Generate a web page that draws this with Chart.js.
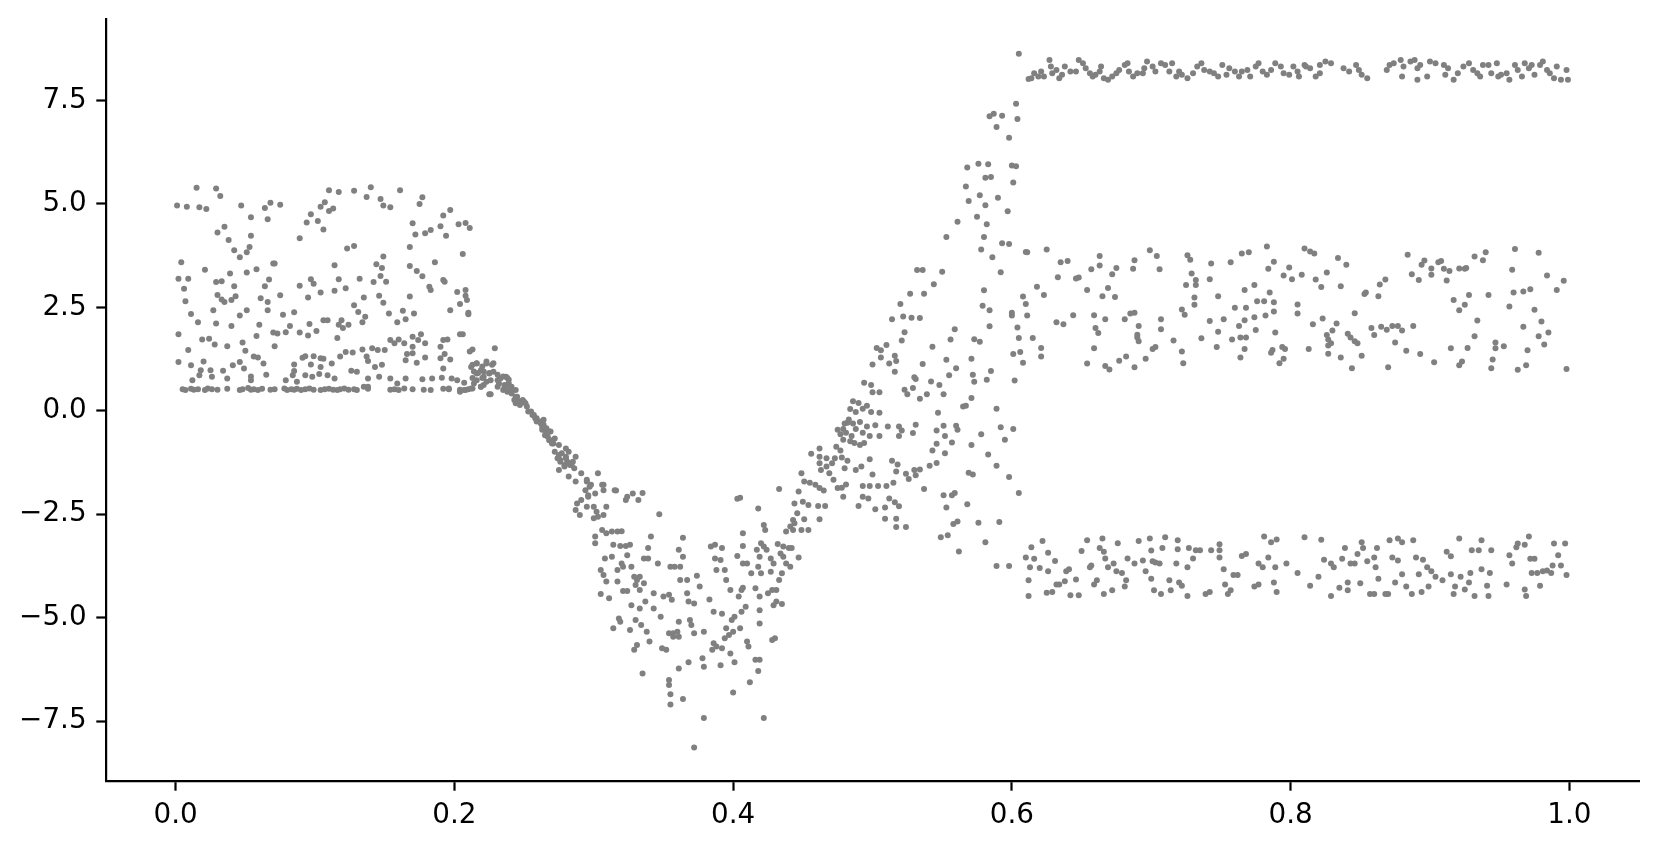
<!DOCTYPE html>
<html>
<head>
<meta charset="utf-8">
<script src="https://cdn.jsdelivr.net/npm/chart.js@4.4.1/dist/chart.umd.min.js"></script>
<style>
  html, body { margin: 0; padding: 0; background: #ffffff; }
  #wrap { width: 1660px; height: 848px; }
</style>
</head>
<body>
<div id="wrap"><canvas id="chart" width="1660" height="848"></canvas></div>
<script>
// tick positions
const xTicks = [0, 0.2, 0.4, 0.6, 0.8, 1.0];
const yTicks = [-7.5, -5, -2.5, 0, 2.5, 5, 7.5];

// x in [0, 0.23]: the noisy block
const leftBlock = [
  [0.001,4.96],[0.008,4.93],[0.015,5.39],[0.017,4.92],[0.022,4.88],[0.029,5.37],[0.032,5.19],[0.030,4.31],[0.035,4.45],[0.038,4.13],
  [0.042,3.88],[0.046,3.71],[0.051,3.83],[0.053,3.96],[0.054,4.23],[0.054,4.68],[0.047,4.96],[0.064,4.90],[0.068,5.03],[0.066,4.63],
  [0.075,4.98],[0.089,4.17],[0.094,4.55],[0.097,4.75],[0.102,4.59],[0.106,4.38],[0.104,4.93],[0.107,5.04],[0.110,4.83],[0.113,4.89],
  [0.110,5.33],[0.117,5.29],[0.123,3.92],[0.128,3.98],[0.128,5.32],[0.137,5.17],[0.140,5.40],[0.147,5.12],[0.149,4.96],[0.154,4.92],
  [0.161,5.33],[0.177,5.16],[0.175,5.00],[0.170,4.53],[0.172,4.26],[0.179,4.29],[0.183,4.37],[0.190,4.46],[0.192,4.72],[0.197,4.85],
  [0.203,4.51],[0.208,4.54],[0.211,4.42],[0.206,3.79],[0.194,4.23],[0.168,3.96],[0.186,3.59],
  [0.004,3.59],[0.002,3.19],[0.009,3.19],[0.006,2.95],[0.007,2.65],[0.011,2.34],[0.016,2.14],[0.002,1.85],[0.021,3.41],[0.029,3.11],
  [0.033,3.13],[0.039,3.32],[0.042,3.01],[0.030,2.80],[0.033,2.69],[0.035,2.63],[0.040,2.68],[0.043,2.77],[0.027,2.43],[0.029,2.11],
  [0.040,2.05],[0.046,2.30],[0.051,2.43],[0.051,3.34],[0.058,3.42],[0.061,2.72],[0.066,2.63],[0.066,2.43],[0.064,3.01],[0.067,3.17],
  [0.070,3.56],[0.071,3.56],[0.075,2.79],[0.077,2.32],[0.085,2.38],[0.089,3.02],[0.095,2.74],[0.097,3.18],[0.099,3.07],[0.104,2.86],
  [0.114,3.52],[0.117,3.18],[0.114,2.90],[0.122,2.96],[0.132,3.19],[0.135,2.74],[0.128,2.55],[0.131,2.39],[0.136,2.27],[0.134,2.14],
  [0.144,3.54],[0.148,3.45],[0.149,3.73],[0.147,3.26],[0.142,3.11],[0.151,3.12],[0.146,2.78],[0.149,2.61],[0.153,2.35],[0.159,2.14],
  [0.163,2.42],[0.165,2.21],[0.168,2.76],[0.171,2.35],[0.168,3.50],[0.173,3.38],[0.177,3.25],[0.182,3.00],[0.183,2.92],[0.192,3.16],
  [0.193,3.12],[0.202,2.87],[0.208,2.92],[0.208,2.78],[0.209,2.68],[0.204,2.58],[0.210,2.37],[0.210,2.33],[0.197,2.43],[0.204,1.85],
  [0.206,1.85],
  [0.002,1.18],[0.009,1.47],[0.011,1.10],[0.019,1.72],[0.024,1.74],[0.028,1.60],[0.020,1.19],[0.018,0.98],[0.025,0.98],[0.026,0.82],
  [0.034,0.97],[0.037,1.56],[0.041,1.10],[0.046,1.18],[0.048,1.65],[0.050,1.45],[0.049,1.02],[0.054,0.83],[0.056,1.31],[0.059,1.29],
  [0.058,1.81],[0.060,2.08],[0.063,1.14],[0.065,0.87],[0.070,1.89],[0.073,1.87],[0.071,1.56],[0.079,1.90],[0.082,2.05],[0.089,1.89],
  [0.095,1.82],[0.096,2.10],[0.101,1.93],[0.106,2.19],[0.109,2.19],[0.116,1.76],[0.117,2.08],[0.119,2.19],[0.124,2.08],[0.120,2.00],
  [0.085,1.12],[0.085,0.96],[0.091,1.28],[0.093,1.32],[0.097,1.12],[0.099,1.32],[0.104,1.27],[0.104,1.06],[0.106,1.26],[0.112,1.14],
  [0.103,0.89],[0.118,1.31],[0.122,1.42],[0.127,1.41],[0.126,0.97],[0.130,0.94],[0.134,1.48],[0.137,1.31],[0.138,1.20],[0.141,1.51],
  [0.145,1.47],[0.150,1.47],[0.143,1.06],[0.148,1.11],[0.146,0.82],[0.138,0.78],[0.138,0.58],[0.154,1.71],[0.157,1.63],[0.160,1.72],
  [0.164,1.63],[0.170,1.55],[0.170,1.79],[0.176,1.85],[0.174,1.71],[0.179,1.63],[0.166,1.37],[0.165,1.22],[0.170,1.39],[0.173,1.16],
  [0.179,1.29],[0.190,1.55],[0.192,1.71],[0.195,1.72],[0.190,1.27],[0.193,1.37],[0.197,1.24],[0.192,1.02],[0.211,1.43],[0.213,1.48],
  [0.229,1.51],[0.191,0.80],[0.198,0.78],[0.202,0.74],[0.207,0.68],[0.212,1.06],[0.216,1.14],[0.219,0.98],[0.223,1.14],[0.216,0.90],
  [0.221,0.82],[0.225,0.90],[0.228,0.94],[0.231,0.74],[0.225,0.40],[0.219,0.58],[0.231,0.58],
  [0.012,0.74],[0.017,0.86],[0.037,0.78],[0.054,0.74],[0.079,0.74],[0.084,0.86],[0.087,0.70],[0.093,0.86],[0.098,0.82],[0.109,0.86],
  [0.114,0.78],[0.135,0.58],[0.154,0.78],[0.159,0.66],[0.165,0.78],[0.177,0.76],[0.184,0.78],
  [0.005,0.52],[0.007,0.50],[0.011,0.53],[0.013,0.51],[0.016,0.52],[0.021,0.50],[0.023,0.54],[0.026,0.52],[0.030,0.51],[0.037,0.53],
  [0.046,0.50],[0.048,0.52],[0.052,0.55],[0.054,0.51],[0.056,0.52],[0.059,0.50],[0.062,0.53],[0.068,0.51],[0.071,0.52],[0.078,0.54],
  [0.080,0.50],[0.083,0.52],[0.085,0.51],[0.087,0.53],[0.090,0.50],[0.093,0.52],[0.096,0.54],[0.099,0.51],[0.104,0.50],[0.107,0.52],
  [0.110,0.53],[0.113,0.51],[0.116,0.50],[0.118,0.52],[0.121,0.54],[0.124,0.51],[0.128,0.52],[0.130,0.50],[0.138,0.53],[0.154,0.51],
  [0.157,0.52],[0.160,0.50],[0.164,0.54],[0.170,0.52],[0.178,0.51],[0.183,0.50],[0.192,0.53],[0.196,0.52],[0.204,0.51],[0.207,0.50],
  [0.210,0.52],[0.213,0.54]
];

// x in [0.21, 0.48]: the dip
const descent = [
  [0.213,1.11],[0.216,1.15],[0.220,1.07],[0.223,1.19],[0.227,1.11],[0.228,1.15],[0.214,0.95],[0.217,0.91],[0.221,0.95],[0.225,0.91],
  [0.213,0.79],[0.216,0.74],[0.220,0.79],[0.223,0.70],[0.226,0.74],[0.214,0.66],[0.196,0.54],[0.204,0.46],[0.208,0.50],[0.212,0.54],
  [0.219,0.58],[0.221,0.62],[0.226,0.40],
  [0.231,0.87],[0.235,0.83],[0.238,0.79],[0.232,0.66],[0.236,0.62],[0.239,0.66],[0.241,0.58],[0.235,0.50],[0.238,0.46],[0.241,0.42],
  [0.244,0.50],[0.245,0.34],[0.243,0.26],[0.246,0.22],[0.249,0.26],[0.251,0.18],[0.247,0.14],[0.252,0.10],
  [0.253,-0.02],[0.256,-0.10],[0.258,-0.18],[0.259,-0.26],[0.262,-0.31],[0.264,-0.22],[0.263,-0.39],[0.265,-0.47],[0.268,-0.50],[0.267,-0.63],
  [0.269,-0.71],[0.272,-0.67],[0.271,-0.79],[0.275,-0.83],[0.272,-0.99],[0.275,-1.07],[0.277,-1.03],[0.274,-1.15],[0.276,-1.23],[0.280,-1.15],
  [0.281,-1.27],[0.279,-1.35],[0.283,-1.31],[0.285,-1.23],[0.287,-1.11],[0.275,-1.43],[0.282,-1.59],[0.280,-0.91],[0.287,-1.71],[0.291,-1.51],
  [0.295,-1.71],[0.297,-1.84],[0.294,-1.92],[0.296,-2.04],[0.301,-2.00],[0.303,-1.51],[0.307,-1.79],[0.315,-1.92],[0.328,-2.00],[0.324,-2.08],
  [0.233,0.78],[0.237,0.82],[0.239,0.75],[0.236,0.58],[0.238,0.62],[0.240,0.54],[0.241,0.46],[0.244,0.34],[0.245,0.26],[0.248,0.22],
  [0.244,0.18],[0.250,0.22],[0.255,-0.02],[0.257,-0.10],[0.259,-0.18],[0.262,-0.26],[0.264,-0.34],[0.263,-0.46],[0.266,-0.42],[0.269,-0.50],
  [0.265,-0.59],[0.268,-0.71],[0.270,-0.79],[0.276,-1.19],[0.279,-1.31],[0.281,-1.23],[0.284,-1.31],[0.286,-1.39],[0.280,-1.11],[0.282,-0.99],
  [0.295,-1.67],[0.298,-1.79],[0.296,-2.08],[0.291,-2.16],[0.288,-2.24],[0.287,-2.40],[0.290,-2.52],[0.295,-2.32],[0.300,-2.32],[0.302,-2.44],
  [0.307,-2.52],[0.300,-2.60],[0.306,-1.79],[0.307,-1.92],[0.309,-2.32],[0.303,-2.56],[0.316,-1.93],[0.323,-2.16],[0.332,-2.16],[0.335,-1.99],
  [0.347,-2.50],
  [0.306,-2.88],[0.309,-2.96],[0.313,-2.92],[0.317,-2.92],[0.320,-2.91],[0.301,-3.04],[0.301,-3.20],[0.314,-3.24],[0.319,-3.27],[0.323,-3.27],
  [0.326,-3.24],[0.308,-3.57],[0.313,-3.53],[0.324,-3.49],[0.305,-3.85],[0.307,-3.97],[0.309,-4.13],[0.317,-3.85],[0.321,-3.77],[0.320,-3.69],
  [0.327,-3.77],[0.329,-4.01],[0.331,-4.09],[0.333,-4.01],[0.336,-4.17],[0.330,-4.21],[0.333,-4.33],[0.321,-4.36],[0.324,-4.36],[0.317,-4.13],
  [0.305,-4.43],[0.311,-4.53],[0.339,-3.32],[0.341,-3.04],[0.336,-3.57],[0.339,-3.57],[0.346,-3.69],
  [0.327,-4.70],[0.333,-4.78],[0.337,-4.61],[0.343,-4.41],[0.343,-4.78],[0.348,-4.98],[0.350,-4.49],[0.354,-4.45],[0.356,-4.57],[0.357,-5.38],
  [0.361,-5.46],[0.354,-5.38],[0.352,-5.78],[0.349,-5.74],[0.340,-5.58],[0.338,-5.34],[0.334,-5.18],[0.330,-5.06],[0.326,-5.30],[0.329,-5.78],
  [0.331,-5.66],[0.318,-5.02],[0.319,-5.10],[0.314,-5.26],
  [0.335,-6.35],[0.354,-6.51],[0.354,-6.63],[0.355,-6.85],[0.355,-7.10],[0.364,-6.97],[0.361,-6.23],[0.368,-6.08],[0.372,-8.14],[0.379,-7.43],
  [0.379,-6.19],[0.378,-5.98],[0.391,-6.15],[0.400,-6.81],[0.401,-6.08],[0.412,-6.56],[0.418,-6.29],[0.416,-6.02],[0.419,-6.02],[0.422,-7.43],
  [0.428,-5.54],[0.430,-5.50],
  [0.355,-3.77],[0.358,-3.77],[0.362,-3.77],[0.362,-4.09],[0.367,-4.09],[0.361,-3.36],[0.364,-3.07],[0.364,-3.53],[0.367,-4.41],[0.368,-4.61],
  [0.372,-4.66],[0.374,-3.99],[0.376,-4.25],[0.369,-5.06],[0.370,-5.18],[0.361,-5.10],[0.360,-5.34],[0.357,-5.46],[0.372,-5.38],[0.379,-5.34],
  [0.383,-4.56],[0.386,-4.86],[0.392,-4.91],[0.386,-5.62],[0.385,-5.78],[0.388,-5.70],[0.392,-5.74],[0.398,-5.87],[0.394,-5.50],[0.397,-5.42],
  [0.400,-5.34],[0.405,-5.26],[0.395,-5.26],[0.399,-5.06],[0.401,-4.98],[0.406,-4.86],[0.409,-4.74],[0.410,-5.58],[0.411,-5.70],[0.419,-5.14],
  [0.419,-4.82],[0.419,-4.49],[0.416,-4.29],[0.407,-4.28],[0.404,-4.49],[0.406,-4.33],[0.398,-4.33],[0.395,-4.09],[0.394,-3.85],[0.388,-3.85],
  [0.387,-3.57],[0.391,-3.61],[0.384,-3.28],[0.387,-3.24],[0.392,-3.32],[0.403,-3.51],[0.407,-3.27],[0.407,-3.69],[0.410,-3.69],[0.413,-3.93],
  [0.418,-3.77],[0.420,-3.93],[0.425,-4.41],[0.428,-4.33],[0.431,-4.33],[0.429,-4.70],[0.431,-4.61],[0.435,-4.67],[0.433,-4.09],[0.435,-3.93],
  [0.427,-3.89],[0.429,-3.69],[0.434,-3.45],[0.436,-3.53],[0.438,-3.69],[0.441,-3.77],[0.436,-3.28],[0.440,-3.32],[0.424,-3.36],[0.427,-3.57],
  [0.419,-3.53],[0.422,-3.28],[0.420,-3.20],[0.417,-3.36],[0.423,-2.88],[0.422,-2.76],[0.407,-2.96],[0.418,-2.36],[0.432,-3.22],[0.403,-2.13],
  [0.405,-2.10],[0.433,-1.89],[0.442,-3.32],[0.447,-3.55],[0.449,-2.88],[0.454,-2.88],[0.443,-2.88],[0.438,-2.92],[0.441,-2.80],[0.444,-2.72],
  [0.443,-2.64],[0.446,-2.48],[0.451,-2.62],[0.462,-2.62],[0.444,-2.24],[0.450,-2.20],[0.454,-2.28],[0.461,-2.30],[0.466,-2.30],[0.447,-1.95],
  [0.451,-1.71],[0.455,-1.74],[0.459,-1.79],[0.462,-1.87],[0.465,-1.93],[0.449,-1.51],[0.456,-1.04],[0.462,-1.11],[0.467,-1.15],[0.462,-1.27],
  [0.463,-1.43],[0.467,-1.35],[0.471,-1.27],[0.473,-1.15],[0.474,-0.87],[0.475,-0.46],[0.469,-1.51],[0.472,-1.67],[0.475,-1.87],[0.462,-0.91]
];

// x in [0.48, 0.61]: the split and the climb
const ascent = [
  [0.605,8.63],[0.612,8.02],[0.603,7.42],[0.604,7.05],[0.584,7.12],[0.587,7.18],[0.593,7.13],[0.589,6.86],[0.598,6.60],[0.568,5.88],
  [0.576,5.97],[0.583,5.96],[0.581,5.63],[0.585,5.65],[0.600,5.93],[0.603,5.91],[0.601,5.52],[0.567,5.42],[0.577,5.21],[0.569,5.07],
  [0.581,4.97],[0.590,5.15],[0.575,4.69],[0.582,4.51],[0.597,4.82],[0.561,4.57],[0.553,4.20],[0.580,4.20],[0.593,4.05],[0.598,4.03],
  [0.578,3.90],[0.586,3.71],[0.610,3.84],[0.592,3.35],[0.532,3.40],[0.536,3.40],[0.550,3.36],[0.544,3.06],[0.527,2.83],[0.537,2.83],
  [0.580,2.91],[0.520,2.58],[0.514,2.21],[0.522,2.28],[0.528,2.25],[0.534,2.24],[0.523,1.90],[0.521,1.70],[0.579,2.54],[0.584,2.43],
  [0.584,2.04],[0.600,2.37],[0.600,2.30],[0.608,2.76],[0.610,2.58],[0.611,2.30],[0.604,2.01],[0.605,1.76],[0.601,1.37],[0.606,1.42],
  [0.608,1.16],[0.602,0.73],[0.573,1.73],[0.577,1.67],[0.559,1.97],[0.556,1.72],[0.543,1.55],[0.553,1.23],[0.560,1.03],[0.555,0.86],
  [0.571,1.26],[0.572,0.87],[0.573,0.70],[0.582,0.75],[0.585,0.96],[0.571,0.31],[0.565,0.10],[0.567,0.12],[0.589,0.05],[0.592,-0.40],
  [0.601,-0.44],[0.595,-0.70],[0.578,-0.57],[0.598,-1.60],[0.605,-1.99],[0.583,-1.06],[0.589,-1.33],[0.571,-0.83],[0.569,-1.50],[0.572,-1.54],
  [0.568,-2.26],[0.576,-2.71],[0.591,-2.69],[0.581,-3.18],[0.589,-3.75],[0.598,-3.75],[0.562,-3.40],[0.549,-3.06],[0.554,-3.01],[0.558,-2.74],
  [0.561,-2.68],[0.551,-2.04],[0.557,-2.04],[0.559,-1.99],[0.553,-2.34],[0.537,-1.89],[0.551,0.40],[0.547,-0.05],[0.542,0.71],[0.548,0.62],
  [0.536,1.13],[0.530,0.81],[0.531,0.77],[0.523,0.51],[0.525,0.40],[0.529,0.55],[0.534,0.29],[0.539,0.40],[0.516,1.33],[0.517,1.20],
  [0.512,1.14],[0.516,0.94],[0.506,1.29],[0.510,1.59],[0.503,1.52],[0.506,1.46],[0.500,1.12],[0.505,0.45],[0.494,0.68],[0.499,0.62],
  [0.511,-0.38],[0.519,-0.38],[0.505,-0.61],[0.529,-0.54],[0.531,-0.34],[0.546,-0.48],[0.551,-0.36],[0.546,-0.80],[0.552,-0.61],[0.557,-0.77],
  [0.543,-0.96],[0.560,-0.36],[0.561,-0.46],[0.552,-1.03],[0.541,-1.33],[0.546,-1.26],[0.521,-0.48],[0.519,-0.61],[0.518,-1.30],[0.514,-1.21],
  [0.517,-1.47],[0.524,-1.52],[0.526,-1.65],[0.531,-1.56],[0.534,-1.42],[0.530,-1.43],[0.512,-2.12],[0.516,-2.21],[0.509,-2.61],[0.517,-2.61],
  [0.517,-2.81],[0.524,-2.81],[0.519,-2.31],[0.509,-2.34],[0.502,-2.38],
  [0.500,0.45],[0.486,0.23],[0.490,0.19],[0.484,0.04],[0.488,-0.03],[0.493,0.05],[0.496,0.12],[0.499,-0.03],[0.505,-0.05],[0.480,-0.31],
  [0.482,-0.29],[0.486,-0.31],[0.491,-0.27],[0.496,-0.38],[0.502,-0.35],[0.483,-0.21],[0.479,-0.44],[0.488,-0.44],[0.493,-0.53],[0.477,-0.57],
  [0.481,-0.53],[0.485,-0.61],[0.479,-0.70],[0.484,-0.74],[0.487,-0.78],[0.491,-0.83],[0.494,-0.78],[0.498,-0.61],[0.477,-0.96],[0.478,-1.13],
  [0.482,-1.21],[0.480,-1.39],[0.488,-1.43],[0.492,-1.35],[0.498,-1.17],[0.478,-1.86],[0.481,-1.78],[0.479,-2.08],[0.493,-1.82],[0.498,-1.82],
  [0.504,-1.82],[0.510,-1.82],[0.515,-1.74],[0.493,-2.08],[0.497,-2.12],[0.490,-2.30],[0.500,-1.54]
];

// x > 0.6: three bands
const topBand = [
  [0.614,8.04],[0.616,8.16],[0.619,8.08],[0.621,8.20],[0.623,8.08],[0.627,8.48],[0.628,8.32],[0.629,8.16],[0.632,8.24],[0.634,8.04],
  [0.636,8.12],[0.638,8.32],[0.642,8.20],[0.646,8.20],[0.648,8.48],[0.651,8.40],[0.653,8.28],[0.656,8.16],[0.658,8.08],[0.660,8.12],
  [0.663,8.20],[0.664,8.32],[0.666,8.04],[0.669,8.00],[0.672,8.08],[0.675,8.16],[0.677,8.24],[0.681,8.36],[0.683,8.40],[0.684,8.20],
  [0.687,8.08],[0.690,8.16],[0.694,8.16],[0.695,8.28],[0.697,8.44],[0.701,8.32],[0.703,8.20],[0.707,8.40],[0.710,8.36],[0.713,8.20],
  [0.715,8.40],[0.718,8.08],[0.720,8.20],[0.722,8.12],[0.726,8.04],[0.730,8.16],[0.733,8.32],[0.736,8.40],[0.738,8.24],[0.742,8.20],
  [0.745,8.16],[0.748,8.08],[0.751,8.36],[0.754,8.12],[0.756,8.28],[0.760,8.20],[0.763,8.08],[0.765,8.20],[0.769,8.24],[0.771,8.08],
  [0.775,8.32],[0.777,8.40],[0.780,8.20],[0.783,8.12],[0.786,8.24],[0.789,8.40],[0.793,8.32],[0.795,8.16],[0.799,8.12],[0.802,8.32],
  [0.805,8.20],[0.806,8.08],[0.810,8.36],
  [0.811,8.32],[0.814,8.28],[0.818,8.08],[0.821,8.16],[0.821,8.36],[0.825,8.44],[0.829,8.40],[0.838,8.28],[0.842,8.20],[0.847,8.36],
  [0.849,8.24],[0.851,8.12],[0.855,8.04],[0.869,8.24],[0.871,8.36],[0.874,8.40],[0.879,8.48],[0.880,8.08],[0.881,8.32],[0.886,8.44],
  [0.889,8.48],[0.891,8.28],[0.891,8.00],[0.893,8.36],[0.898,8.08],[0.900,8.44],[0.904,8.40],[0.910,8.36],[0.911,8.12],[0.913,8.28],
  [0.917,8.00],[0.920,8.16],[0.924,8.32],[0.928,8.40],[0.931,8.24],[0.934,8.16],[0.936,8.08],[0.938,8.36],[0.942,8.36],[0.944,8.16],
  [0.948,8.40],[0.949,8.08],[0.951,8.12],[0.955,8.16],[0.957,8.00],[0.961,8.36],[0.963,8.24],[0.966,8.08],[0.968,8.40],[0.971,8.28],
  [0.973,8.36],[0.975,8.12],[0.979,8.36],[0.981,8.44],[0.984,8.24],[0.986,8.16],[0.989,8.04],[0.991,8.32],[0.994,8.00],[0.998,8.24],
  [0.999,8.00]
];

const midBand = [
  [0.611,3.83],[0.625,3.90],[0.635,3.59],[0.640,3.62],[0.633,3.23],[0.646,3.20],[0.648,3.22],[0.657,3.42],[0.663,3.51],[0.663,3.74],
  [0.672,3.30],[0.675,3.45],[0.687,3.43],[0.688,3.64],[0.699,3.88],[0.704,3.74],[0.706,3.42],[0.726,3.76],[0.728,3.65],[0.729,3.32],
  [0.732,3.16],[0.732,3.04],[0.725,3.04],[0.742,3.18],[0.743,3.56],[0.757,3.59],[0.765,3.80],[0.770,3.83],[0.783,3.97],[0.788,3.60],
  [0.784,3.43],[0.795,3.27],[0.799,3.46],[0.801,3.18],[0.808,3.29],[0.810,3.92],[0.618,3.00],[0.623,2.80],[0.615,1.76],[0.621,1.52],
  [0.621,1.31],[0.632,2.14],[0.637,2.09],[0.644,2.31],[0.654,2.92],[0.659,2.31],[0.660,2.00],[0.662,1.88],[0.667,2.21],[0.669,2.97],
  [0.665,2.77],[0.674,2.75],[0.659,1.51],[0.654,1.14],[0.667,1.08],[0.670,1.00],[0.677,1.21],[0.682,1.31],[0.688,1.05],[0.681,2.21],
  [0.685,2.35],[0.688,2.37],[0.691,2.05],[0.690,1.84],[0.691,1.68],[0.690,1.77],[0.696,1.26],[0.701,1.49],[0.703,1.54],[0.707,2.21],
  [0.707,1.97],[0.716,1.70],[0.722,2.45],[0.724,2.32],[0.722,1.43],[0.723,1.15],[0.731,2.56],[0.731,2.74],[0.736,1.75],[0.742,2.17],
  [0.747,1.54],[0.748,1.91],[0.748,2.77],[0.752,2.21],[0.760,2.49],[0.763,2.05],[0.758,1.72],[0.764,1.77],[0.768,1.77],[0.767,1.49],
  [0.764,1.29],[0.767,2.19],[0.768,2.49],[0.767,2.92],[0.774,3.04],[0.776,2.65],[0.781,2.65],[0.785,2.86],[0.788,2.62],[0.788,2.40],
  [0.774,2.26],[0.782,2.30],[0.775,1.95],[0.789,1.89],[0.786,1.40],[0.787,1.47],[0.792,1.15],[0.794,1.54],[0.795,1.26],[0.796,1.49],
  [0.805,2.57],[0.805,2.35],
  [0.814,3.85],[0.817,3.80],[0.818,3.17],[0.826,3.34],[0.834,3.69],[0.840,3.53],[0.836,3.01],[0.822,2.99],[0.816,2.09],[0.823,2.23],
  [0.833,2.11],[0.830,1.94],[0.826,1.83],[0.827,1.72],[0.829,1.63],[0.827,1.58],[0.813,1.49],[0.827,1.38],[0.836,1.29],[0.841,1.86],
  [0.843,1.77],[0.846,1.68],[0.848,1.63],[0.846,2.36],[0.844,1.03],[0.851,1.33],[0.854,2.86],[0.853,2.82],[0.864,3.05],[0.863,2.77],
  [0.868,3.17],[0.858,2.00],[0.865,2.03],[0.869,1.96],[0.873,2.05],[0.877,2.05],[0.880,1.94],[0.888,2.05],[0.860,1.83],[0.875,1.65],
  [0.883,1.45],[0.893,1.37],[0.903,1.17],[0.870,1.05],[0.884,3.77],[0.887,3.30],[0.892,3.16],[0.896,3.63],[0.894,3.53],[0.901,3.44],
  [0.901,3.29],[0.906,3.59],[0.908,3.62],[0.910,3.43],[0.914,3.38],[0.912,3.15],[0.921,3.44],[0.925,3.43],[0.926,3.45],[0.932,3.73],
  [0.938,3.64],[0.940,3.83],[0.917,2.68],[0.925,2.56],[0.921,2.43],[0.928,2.80],[0.934,2.18],[0.932,1.80],[0.942,2.80],[0.915,1.51],
  [0.927,1.52],[0.921,1.10],[0.923,1.19],[0.944,1.03],[0.945,1.24],[0.947,1.65],[0.947,1.51],[0.953,1.56],[0.957,2.52],[0.959,3.41],
  [0.961,3.91],[0.960,2.86],[0.967,2.88],[0.972,2.94],[0.967,2.03],[0.970,1.46],[0.963,0.99],[0.969,1.10],[0.975,2.44],[0.978,3.82],
  [0.984,3.27],[0.980,2.16],[0.978,1.80],[0.985,1.89],[0.982,1.60],[0.991,2.92],[0.996,3.14],[0.998,1.01]
];

const lowBand = [
  [0.614,-3.30],[0.610,-3.55],[0.613,-3.78],[0.616,-3.58],[0.620,-3.80],[0.612,-4.10],[0.612,-4.48],[0.622,-3.15],[0.626,-3.43],[0.631,-3.63],
  [0.626,-3.88],[0.625,-4.40],[0.629,-4.38],[0.632,-4.20],[0.634,-4.20],[0.639,-3.88],[0.641,-3.83],[0.638,-4.12],[0.646,-4.08],[0.642,-4.46],
  [0.648,-4.46],[0.650,-3.39],[0.654,-3.13],[0.656,-3.78],[0.657,-3.74],[0.659,-4.20],[0.661,-4.10],[0.665,-3.09],[0.663,-3.32],[0.666,-3.41],
  [0.667,-3.57],[0.669,-3.78],[0.673,-3.69],[0.675,-3.88],[0.666,-4.43],[0.672,-4.34],[0.676,-3.20],[0.679,-3.92],[0.682,-4.10],[0.681,-4.25],
  [0.683,-3.57],[0.688,-3.69],[0.691,-3.15],[0.694,-3.62],[0.696,-3.88],[0.699,-3.09],[0.700,-3.38],[0.701,-3.64],[0.703,-3.67],[0.706,-3.69],
  [0.700,-4.06],[0.702,-4.34],[0.707,-4.43],[0.708,-3.32],[0.710,-3.06],[0.713,-4.10],[0.714,-4.34],[0.719,-3.13],[0.719,-3.35],[0.720,-4.15],
  [0.718,-3.69],[0.722,-4.23],[0.726,-4.48],[0.726,-3.78],[0.727,-3.32],[0.730,-3.57],[0.732,-3.37],[0.735,-3.37],[0.739,-4.43],[0.742,-4.38],
  [0.743,-3.37],[0.749,-3.23],[0.749,-3.37],[0.749,-3.55],[0.752,-3.83],[0.753,-4.20],[0.755,-4.43],[0.757,-4.34],[0.759,-3.97],[0.762,-3.97],
  [0.765,-3.51],[0.768,-3.46],[0.774,-4.25],[0.777,-4.20],[0.777,-3.69],[0.780,-3.78],[0.781,-3.04],[0.784,-3.55],[0.786,-3.18],[0.790,-3.11],
  [0.788,-4.15],[0.790,-4.38],[0.789,-3.78],[0.797,-3.69],[0.805,-3.92],[0.810,-3.06],
  [0.822,-3.12],[0.814,-4.23],[0.820,-4.01],[0.824,-3.60],[0.829,-3.69],[0.831,-3.78],[0.829,-4.48],[0.835,-4.28],[0.837,-3.58],[0.839,-3.32],
  [0.841,-4.15],[0.841,-4.34],[0.843,-3.69],[0.846,-3.69],[0.848,-3.46],[0.850,-4.17],[0.851,-3.18],[0.852,-3.32],[0.855,-3.64],[0.857,-4.43],
  [0.860,-4.43],[0.860,-3.55],[0.862,-3.32],[0.861,-3.78],[0.863,-4.06],[0.868,-4.43],[0.870,-4.43],[0.871,-3.13],[0.873,-3.55],[0.875,-4.15],
  [0.877,-3.62],[0.877,-3.09],[0.880,-3.95],[0.880,-3.18],[0.883,-4.25],[0.887,-4.43],[0.888,-3.13],[0.890,-3.55],[0.892,-3.95],[0.894,-4.38],
  [0.895,-3.60],[0.898,-3.78],[0.899,-4.25],[0.901,-3.88],[0.904,-4.01],[0.909,-4.10],[0.912,-3.41],[0.915,-3.52],[0.915,-3.95],[0.917,-4.43],
  [0.918,-4.25],[0.921,-3.09],[0.922,-4.01],[0.925,-4.32],[0.928,-4.15],[0.929,-3.92],[0.930,-3.37],[0.932,-4.48],[0.935,-3.37],[0.937,-3.83],
  [0.937,-3.13],[0.941,-4.23],[0.942,-4.48],[0.943,-3.92],[0.944,-3.37],[0.955,-4.20],[0.957,-3.49],[0.959,-3.69],[0.962,-3.30],[0.963,-3.21],
  [0.968,-3.24],[0.971,-3.04],[0.972,-3.58],[0.973,-3.92],[0.975,-3.58],[0.977,-3.92],[0.979,-4.23],[0.981,-3.88],[0.984,-3.86],[0.987,-3.92],
  [0.988,-3.74],[0.989,-3.21],[0.992,-3.49],[0.994,-3.74],[0.997,-3.21],[0.998,-3.97],[0.968,-4.32],[0.969,-4.48]
];

const allPoints = [].concat(leftBlock, descent, ascent, topBand, midBand, lowBand)
  .map(p => ({ x: p[0], y: p[1] }));

function fmtTick(v) {
  const s = Math.abs(v).toFixed(1);
  return v < 0 ? '\u2212' + s : s;
}

const tickFont = { family: 'DejaVu Sans', size: 27.8 };

new Chart(document.getElementById('chart').getContext('2d'), {
  type: 'scatter',
  data: {
    datasets: [{
      data: allPoints,
      backgroundColor: '#808080',
      borderWidth: 0,
      pointRadius: 3,
      pointHoverRadius: 3
    }]
  },
  options: {
    responsive: false,
    animation: false,
    devicePixelRatio: 1,
    layout: { padding: { top: 19, right: 21, left: 0, bottom: 0 } },
    plugins: {
      legend: { display: false },
      tooltip: { enabled: false }
    },
    scales: {
      x: {
        type: 'linear',
        min: -0.05,
        max: 1.05,
        afterBuildTicks: function(scale) {
          scale.ticks = xTicks.map(v => ({ value: v }));
        },
        afterFit: function(scale) {
          scale.height = 67;
          scale.paddingLeft = 0;
          scale.paddingRight = 0;
        },
        ticks: {
          color: '#000000',
          font: tickFont,
          padding: 8,
          maxRotation: 0,
          autoSkip: false,
          callback: function(v) { return fmtTick(v); }
        },
        grid: {
          display: true,
          drawOnChartArea: false,
          drawTicks: true,
          tickLength: 9.7,
          tickWidth: 2.2,
          tickColor: '#000000'
        },
        border: { display: true, color: '#000000', width: 2.2 }
      },
      y: {
        type: 'linear',
        min: -8.95,
        max: 9.47,
        afterBuildTicks: function(scale) {
          scale.ticks = yTicks.map(v => ({ value: v }));
        },
        afterFit: function(scale) {
          scale.width = 106;
          scale.paddingTop = 0;
          scale.paddingBottom = 0;
        },
        ticks: {
          color: '#000000',
          font: tickFont,
          padding: 9.7,
          autoSkip: false,
          callback: function(v) { return fmtTick(v); }
        },
        grid: {
          display: true,
          drawOnChartArea: false,
          drawTicks: true,
          tickLength: 9.7,
          tickWidth: 2.2,
          tickColor: '#000000'
        },
        border: { display: true, color: '#000000', width: 2.2 }
      }
    }
  }
});
</script>
</body>
</html>
